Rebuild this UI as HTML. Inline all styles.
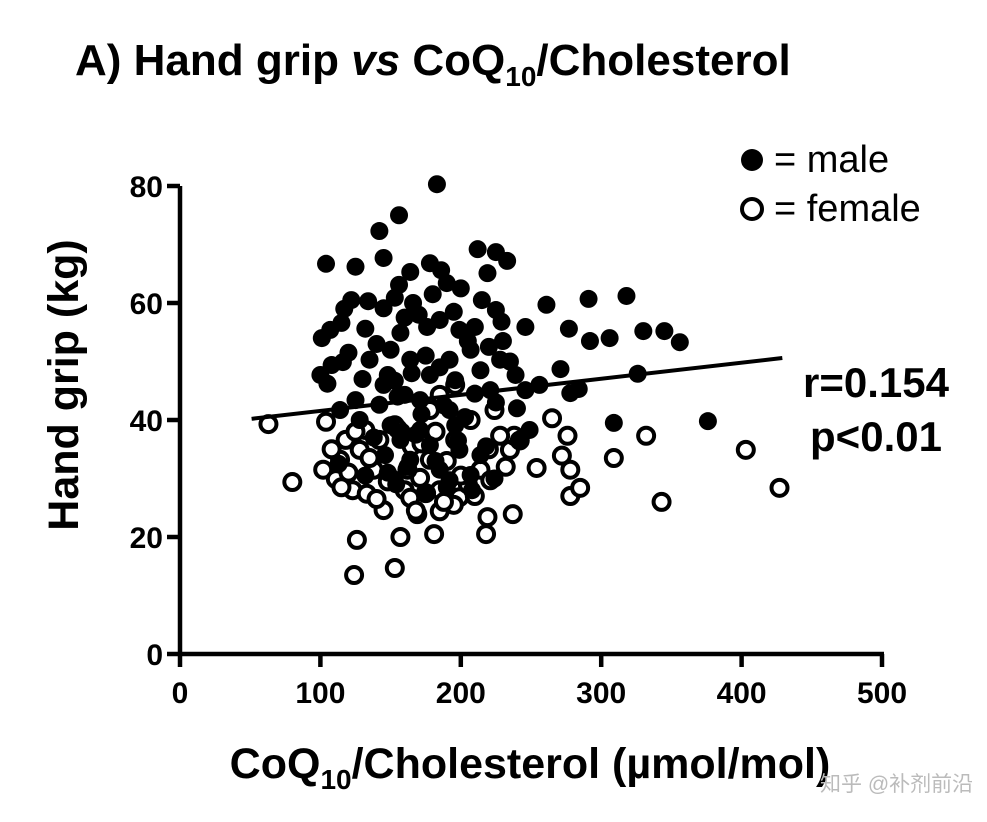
<!DOCTYPE html>
<html><head><meta charset="utf-8"><style>
body{margin:0;background:#fff;}
svg{display:block;font-family:"Liberation Sans","Noto Sans CJK SC",sans-serif;}
</style></head><body>
<svg id="chart" width="987" height="822" viewBox="0 0 987 822">
<text x="75" y="75" font-size="44" font-weight="bold">A) Hand grip <tspan font-style="italic">vs</tspan> CoQ<tspan font-size="28" dy="11">10</tspan><tspan dy="-11">/Cholesterol</tspan></text>
<g id="axes"></g>
<g id="marks"></g>
<text transform="translate(78,385) rotate(-90)" text-anchor="middle" font-size="43" font-weight="bold">Hand grip (kg)</text>
<text x="530" y="778" text-anchor="middle" font-size="43" font-weight="bold">CoQ<tspan font-size="28" dy="11">10</tspan><tspan dy="-11">/Cholesterol (µmol/mol)</tspan></text>
<g>
<circle cx="752" cy="160" r="11" fill="#000"/>
<text x="774" y="172" font-size="38">= male</text>
<circle cx="752" cy="209" r="10" fill="none" stroke="#000" stroke-width="4"/>
<text x="774" y="221" font-size="38">= female</text>
</g>
<text x="876" y="397" text-anchor="middle" font-size="42" font-weight="bold">r=0.154</text>
<text x="876" y="451" text-anchor="middle" font-size="42" font-weight="bold">p&lt;0.01</text>
<text x="820" y="791" font-size="21" fill="#bbb">知乎 @补剂前沿</text>
</svg>
<script>
const xTicks=[0,100,200,300,400,500];
const yTicks=[0,20,40,60,80];
const maleX=[183,156,142,104,125,145,212,225,233,219,178,164,186,190,156,153,166,122,134,117,107,115,132,145,157,176,185,199,210,225,229,246,261,291,318,277,292,306,330,345,356,271,284,326,278,309,376,100,105,108,116,101,135,148,164,178,196,214,228,239,246,256,207,192,160,142,171,125,114,249,242,128,192,221,153,157,178,199,214,164,185,207,146,192,171,196,150,
 170,180,200,215,230,160,150,140,175,195,205,220,235,165,185,155,145,130,120,210,225,240,172,188,203,168,158,138,198,218,182,162,148,132,113,190,208,224,176,154];
const maleY=[80.3,75.0,72.3,66.7,66.2,67.7,69.2,68.7,67.2,65.1,66.8,65.3,65.6,63.4,63.1,60.9,60.0,60.5,60.3,59.0,55.4,56.6,55.6,59.1,54.9,55.9,57.1,55.4,55.9,58.8,56.8,55.9,59.7,60.7,61.2,55.6,53.5,54.0,55.2,55.2,53.3,48.7,45.3,47.9,44.6,39.5,39.8,47.7,46.2,49.4,49.9,54.0,50.3,47.7,50.3,47.7,46.8,48.5,50.3,47.7,45.1,46.0,52.0,50.3,44.3,42.6,43.4,43.4,41.7,38.3,36.6,40.0,41.7,45.1,46.7,36.6,35.7,34.9,34.0,33.2,31.5,30.6,34.0,29.7,38.3,39.1,39.1,
 58.0,61.5,62.5,60.5,53.5,57.5,52.0,53.0,51.0,58.5,53.5,52.5,50.0,48.0,49.0,44.0,46.0,47.0,51.5,44.5,43.0,42.0,41.0,42.5,40.5,37.5,38.0,37.0,36.5,35.5,33.0,32.0,31.0,30.5,32.5,28.5,28.0,30.0,27.5,29.0];
const femaleX=[63,80,126,124,153,157,181,218,219,237,185,169,145,278,285,343,427,403,332,309,276,265,272,278,254,235,224,238,104,102,111,114,123,133,138,118,128,142,160,171,185,199,214,221,178,196,207,178,153,164,132,228,196,185,
 108,120,135,150,165,175,190,205,220,232,242,115,125,140,155,168,182,195,210,148,162,172,200,188];
const femaleY=[39.3,29.4,19.5,13.5,14.7,20.0,20.5,20.5,23.4,23.9,24.4,23.9,24.6,27.0,28.4,26.0,28.4,34.9,37.3,33.5,37.3,40.3,33.9,31.5,31.8,34.9,41.7,37.3,39.7,31.5,29.9,33.2,28.0,27.4,31.5,36.6,34.9,36.6,28.0,30.1,28.0,26.8,31.5,29.7,33.2,36.6,40.0,41.7,39.1,26.7,38.3,37.3,46.0,44.3,
 35.0,31.0,33.5,30.0,35.5,27.5,33.0,29.0,35.0,32.0,36.5,28.5,38.0,26.5,38.5,24.5,38.0,25.5,27.0,29.5,31.5,36.0,30.5,26.0];
const fitX=[51,429];
const slope=0.0275, intercept=38.8;
const NS="http://www.w3.org/2000/svg";
const sx=v=>180+v*1.404, sy=v=>654-v*5.85;
function mk(t,a,p){const e=document.createElementNS(NS,t);for(const k in a)e.setAttribute(k,a[k]);p.appendChild(e);return e;}
const ax=document.getElementById('axes'), mg=document.getElementById('marks');
let l=mk('line',{x1:180,y1:sy(80),x2:180,y2:656,stroke:'#000','stroke-width':4.5},ax);


l=mk('line',{x1:178,y1:654,x2:sx(500)+2,y2:654,stroke:'#000','stroke-width':4.5},ax);


xTicks.forEach(v=>{
 const t=mk('line',{x1:sx(v),y1:654,x2:sx(v),y2:667,stroke:'#000','stroke-width':4.5},ax);
 
 
 const tx=mk('text',{x:sx(v),y:703,'text-anchor':'middle','font-size':30,'font-weight':'bold'},ax);
 tx.textContent=v;
 
 
});
yTicks.forEach(v=>{
 const t=mk('line',{x1:167,y1:sy(v),x2:180,y2:sy(v),stroke:'#000','stroke-width':4.5},ax);
 
 
 const tx=mk('text',{x:163,y:sy(v)+11,'text-anchor':'end','font-size':30,'font-weight':'bold'},ax);
 tx.textContent=v;
 
 
});
femaleX.forEach((x,i)=>{
 const c=mk('circle',{cx:sx(x),cy:sy(femaleY[i]),r:8,fill:'#fff',stroke:'#000','stroke-width':4},mg);
 
 
});
maleX.forEach((x,i)=>{
 const c=mk('circle',{cx:sx(x),cy:sy(maleY[i]),r:9,fill:'#000'},mg);
 
 
});
const fl=mk('line',{x1:sx(fitX[0]),y1:sy(intercept+slope*fitX[0]),x2:sx(fitX[1]),y2:sy(intercept+slope*fitX[1]),stroke:'#000','stroke-width':4},mg);


</script>
</body></html>
